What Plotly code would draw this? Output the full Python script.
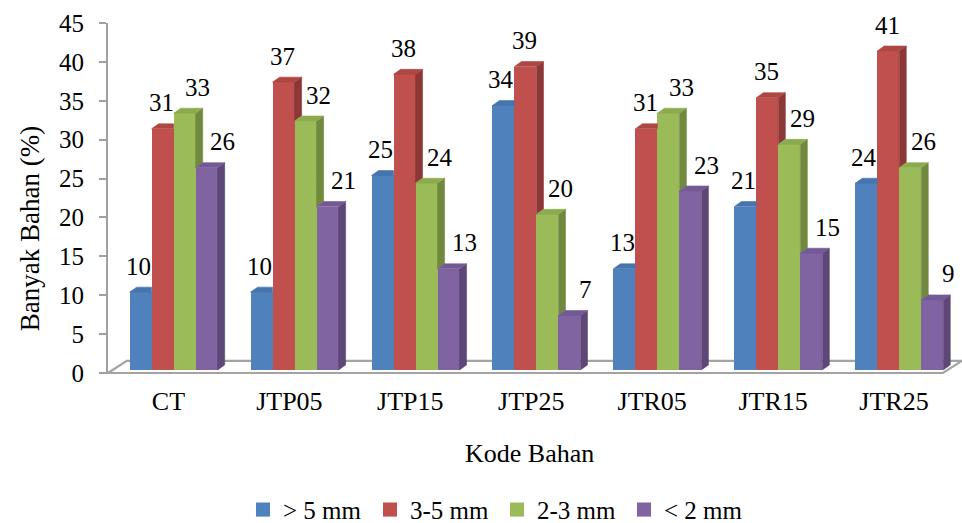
import plotly.graph_objects as go

# ---- data ----
categories = ["CT", "JTP05", "JTP15", "JTP25", "JTR05", "JTR15", "JTR25"]
series_names = ["> 5 mm", "3-5 mm", "2-3 mm", "< 2 mm"]
size_gt5 = [10, 10, 25, 34, 13, 21, 24]
size_3_5 = [31, 37, 38, 39, 31, 35, 41]
size_2_3 = [33, 32, 24, 20, 33, 29, 26]
size_lt2 = [26, 21, 13, 7, 23, 15, 9]
y_ticks = [0, 5, 10, 15, 20, 25, 30, 35, 40, 45]

series_values = [size_gt5, size_3_5, size_2_3, size_lt2]

# ---- styling ----
FONT = "Liberation Serif"
front_colors = ["#4F81BD", "#C0504D", "#9BBB59", "#8064A2"]
top_colors = ["#4675AE", "#AE4643", "#8CAB4E", "#735A94"]
side_colors = ["#385D8A", "#8C3836", "#71893F", "#5C4776"]

X_RANGE = [-0.5, 6.562]
Y_RANGE = [0, 45]
BAR_W = 0.182
SHIFTS = [-0.23, -0.048, 0.134, 0.316]
LIFT = 0.4            # front faces sit slightly behind the floor's front edge
DEPTH_X = 0.058       # 3-D bar depth, horizontal component (axis units)
DEPTH_Y = 0.64        # 3-D bar depth, vertical component (axis units)
LABEL_XSHIFT = [-2, -1, 13, 16]
LABEL_YSHIFT = 26
FLOOR_END = 6.405
FLOOR_DX = 0.155
FLOOR_DY = 1.55


def xp(x):
    return (x - X_RANGE[0]) / (X_RANGE[1] - X_RANGE[0])


def yp(y):
    return (y - Y_RANGE[0]) / (Y_RANGE[1] - Y_RANGE[0])


def serif(size):
    return dict(family=FONT, size=size, color="#000000")


fig = go.Figure()

# front faces as real bars
for i, vals in enumerate(series_values):
    fig.add_trace(go.Bar(
        x=[j + SHIFTS[i] for j in range(len(categories))],
        y=vals,
        base=LIFT,
        width=BAR_W,
        marker=dict(color=front_colors[i], line=dict(width=0)),
        showlegend=False,
        hoverinfo="skip",
    ))

# side and top faces of each bar, drawn series by series
for i, vals in enumerate(series_values):
    sx, sy, tx, ty = [], [], [], []
    for j, v in enumerate(vals):
        xc = j + SHIFTS[i]
        L, R = xc - BAR_W / 2, xc + BAR_W / 2
        b, t = LIFT, LIFT + v
        t_next = LIFT + series_values[i + 1][j] if i + 1 < len(series_values) else None
        # side face: the part not hidden behind the neighbouring bar
        if t_next is None or t_next < t:
            sb = b if t_next is None else max(b, t_next)
            sx += [R, R + DEPTH_X, R + DEPTH_X, R, R, None]
            sy += [sb, sb + DEPTH_Y, t + DEPTH_Y, t, sb, None]
        # top face
        if t_next is not None and t_next > t:
            tx += [L, L + DEPTH_X, R, R, L, None]
            ty += [t, t + DEPTH_Y, t + DEPTH_Y, t, t, None]
        else:
            tx += [L, L + DEPTH_X, R + DEPTH_X, R, L, None]
            ty += [t, t + DEPTH_Y, t + DEPTH_Y, t, t, None]
    if sx:
        fig.add_trace(go.Scatter(
            x=sx, y=sy, mode="lines", fill="toself", fillcolor=side_colors[i],
            line=dict(width=0.6, color=side_colors[i]),
            showlegend=False, hoverinfo="skip"))
    fig.add_trace(go.Scatter(
        x=tx, y=ty, mode="lines", fill="toself", fillcolor=top_colors[i],
        line=dict(width=0.6, color=top_colors[i]),
        showlegend=False, hoverinfo="skip"))

# legend entries
for i, name in enumerate(series_names):
    fig.add_trace(go.Scatter(
        x=[None], y=[None], mode="markers", name=name,
        marker=dict(symbol="square", size=14, color=front_colors[i]),
        showlegend=True))

# value labels
annotations = []
for i, vals in enumerate(series_values):
    for j, v in enumerate(vals):
        annotations.append(dict(
            x=j + SHIFTS[i], y=LIFT + v, xref="x", yref="y",
            text=str(v), showarrow=False, xanchor="center", yanchor="middle",
            xshift=LABEL_XSHIFT[i], yshift=LABEL_YSHIFT,
            font=serif(25)))

# axis titles
annotations.append(dict(
    x=xp(X_RANGE[0]) - 78 / 854, y=0.411, xref="paper", yref="paper",
    text="Banyak Bahan (%)", textangle=-90, showarrow=False,
    xanchor="center", yanchor="middle", font=serif(27)))
annotations.append(dict(
    x=0.494, y=-0.229, xref="paper", yref="paper",
    text="Kode Bahan", showarrow=False, xanchor="center", yanchor="middle",
    font=serif(26)))

# floor of the 3-D plot area
floor_pts = [
    (X_RANGE[0], 0),
    (FLOOR_END, 0),
    (FLOOR_END + FLOOR_DX, FLOOR_DY),
    (X_RANGE[0] + FLOOR_DX, FLOOR_DY),
]
floor_path = "M " + " L ".join(f"{xp(x):.5f},{yp(y):.5f}" for x, y in floor_pts) + " Z"
shapes = [dict(type="path", xref="paper", yref="paper", path=floor_path,
               line=dict(color="#A3A3A3", width=2.2), fillcolor="rgba(0,0,0,0)",
               layer="below")]

fig.update_layout(
    template="none",
    width=962, height=523,
    margin=dict(l=108, r=0, t=23, b=150, autoexpand=False),
    paper_bgcolor="white", plot_bgcolor="white",
    font=serif(25),
    barmode="overlay",
    bargap=0,
    xaxis=dict(
        range=X_RANGE, tickmode="array",
        tickvals=list(range(len(categories))), ticktext=categories,
        showgrid=False, zeroline=False, showline=False, ticks="",
        ticklabelstandoff=10, tickfont=serif(26),
    ),
    yaxis=dict(
        range=Y_RANGE, tickmode="array", tickvals=y_ticks,
        showgrid=False, zeroline=False,
        showline=True, linecolor="#A0A0A0", linewidth=2.2,
        ticks="outside", ticklen=7, tickcolor="#A0A0A0", tickwidth=2,
        ticklabelstandoff=10, tickfont=serif(25),
    ),
    showlegend=True,
    legend=dict(
        orientation="h", x=(243 - 108) / 854, xanchor="left",
        y=-0.391, yanchor="middle",
        entrywidth=82, entrywidthmode="pixels",
        font=serif(25),
        bgcolor="rgba(0,0,0,0)",
    ),
    annotations=annotations,
    shapes=shapes,
)

fig.write_html("out.html")
